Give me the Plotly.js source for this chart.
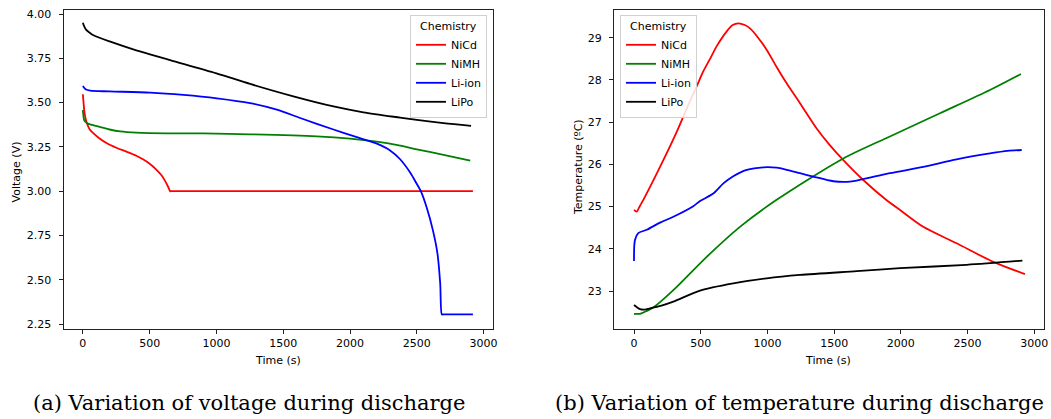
<!DOCTYPE html>
<html>
<head>
<meta charset="utf-8">
<script src="https://cdn.plot.ly/plotly-3.0.1.min.js"></script>
<style>html,body{margin:0;padding:0;background:#fff;}#chart{width:1051px;height:419px;}</style>
</head>
<body>
<div id="chart"></div>
<script>
// ---------- Data ----------
const seriesNames = ["NiCd", "NiMH", "Li-ion", "LiPo"];
const seriesColors = ["#ff0000", "#008000", "#0000ff", "#000000"];

// (a) Voltage during discharge
const nicdVoltTime = [0, 5, 10, 20, 30, 50, 80, 120, 180, 250, 330, 400, 450, 500, 550, 590, 615, 640, 653, 665, 720, 1000, 2000, 2920];
const nicdVolt     = [3.547, 3.50, 3.458, 3.41, 3.383, 3.35, 3.326, 3.30, 3.270, 3.245, 3.222, 3.200, 3.180, 3.155, 3.122, 3.088, 3.058, 3.022, 3.000, 3.000, 3.000, 3.000, 3.000, 3.000];

const nimhVoltTime = [0, 5, 10, 30, 60, 130, 200, 280, 400, 630, 900, 1250, 1750, 2000, 2200, 2375, 2500, 2700, 2900];
const nimhVolt     = [3.458, 3.42, 3.40, 3.385, 3.375, 3.362, 3.348, 3.337, 3.330, 3.326, 3.326, 3.321, 3.309, 3.296, 3.279, 3.257, 3.236, 3.205, 3.172];

const liionVoltTime = [0, 20, 55, 200, 504, 753, 1003, 1252, 1452, 1627, 1876, 2051, 2201, 2300, 2375, 2450, 2500, 2530, 2575, 2620, 2654, 2675, 2687, 2695, 2750, 2920];
const liionVolt     = [3.593, 3.575, 3.567, 3.563, 3.556, 3.543, 3.524, 3.497, 3.460, 3.413, 3.348, 3.305, 3.268, 3.230, 3.180, 3.105, 3.040, 3.000, 2.905, 2.780, 2.650, 2.480, 2.304, 2.304, 2.304, 2.304];

const lipoVoltTime = [0, 10, 25, 50, 80, 200, 400, 653, 1000, 1252, 1576, 1876, 2100, 2375, 2500, 2700, 2906];
const lipoVolt     = [3.951, 3.93, 3.91, 3.895, 3.880, 3.845, 3.795, 3.740, 3.665, 3.605, 3.535, 3.478, 3.445, 3.415, 3.402, 3.384, 3.369];

// (b) Temperature during discharge
const nicdTempTime = [0, 20, 45, 70, 195, 320, 407, 470, 519, 570, 620, 695, 740, 782, 830, 869, 930, 995, 1070, 1144, 1244, 1369, 1469, 1569, 1718, 1894, 1994, 2168, 2418, 2693, 2930];
const nicdTemp     = [24.92, 24.88, 25.02, 25.16, 25.94, 26.77, 27.41, 27.85, 28.20, 28.50, 28.80, 29.15, 29.30, 29.34, 29.30, 29.22, 29.00, 28.71, 28.30, 27.92, 27.45, 26.85, 26.45, 26.10, 25.63, 25.15, 24.92, 24.52, 24.13, 23.69, 23.40];

const nimhTempTime = [0, 45, 90, 145, 295, 545, 794, 1069, 1569, 1918, 2293, 2668, 2900];
const nimhTemp     = [22.46, 22.46, 22.52, 22.61, 23.02, 23.81, 24.52, 25.16, 26.14, 26.66, 27.21, 27.76, 28.14];

const liionTempTime = [0, 7, 32, 95, 195, 295, 444, 495, 594, 670, 744, 845, 969, 1070, 1144, 1244, 1344, 1494, 1619, 1718, 1918, 2168, 2418, 2668, 2800, 2906];
const liionTemp     = [23.71, 24.21, 24.37, 24.45, 24.62, 24.76, 25.01, 25.13, 25.31, 25.55, 25.72, 25.87, 25.93, 25.92, 25.87, 25.79, 25.71, 25.60, 25.59, 25.65, 25.79, 25.94, 26.12, 26.26, 26.32, 26.34];

const lipoTempTime = [0, 20, 45, 80, 120, 200, 295, 495, 744, 995, 1244, 1669, 1994, 2493, 2911];
const lipoTemp     = [22.67, 22.62, 22.57, 22.56, 22.59, 22.65, 22.75, 23.01, 23.18, 23.30, 23.38, 23.47, 23.54, 23.62, 23.72];

// ---------- Labels ----------
const legendTitle = "Chemistry";
const xLabel = "Time (s)";
const yLabelA = "Voltage (V)";
const yLabelB = "Temperature (ºC)";
const captionA = "(a) Variation of voltage during discharge";
const captionB = "(b) Variation of temperature during discharge";

// ---------- Traces ----------
const voltSets = [[nicdVoltTime, nicdVolt], [nimhVoltTime, nimhVolt], [liionVoltTime, liionVolt], [lipoVoltTime, lipoVolt]];
const tempSets = [[nicdTempTime, nicdTemp], [nimhTempTime, nimhTemp], [liionTempTime, liionTemp], [lipoTempTime, lipoTemp]];

const traces = [];
voltSets.forEach((s, i) => traces.push({
  x: s[0], y: s[1], type: "scatter", mode: "lines", name: seriesNames[i],
  line: {color: seriesColors[i], width: 1.8, shape: "spline", smoothing: 0.8}, xaxis: "x", yaxis: "y", legend: "legend"
}));
tempSets.forEach((s, i) => traces.push({
  x: s[0], y: s[1], type: "scatter", mode: "lines", name: seriesNames[i],
  line: {color: seriesColors[i], width: 1.8, shape: "spline", smoothing: 0.8}, xaxis: "x2", yaxis: "y2", legend: "legend2"
}));

const W = 1051, H = 419;
const px = v => v / W;
const py = v => 1 - v / H;

const tickFont = {family: "DejaVu Sans", size: 11, color: "#000"};
const axisCommon = {
  showgrid: false, zeroline: false, showline: true, mirror: true,
  linecolor: "#222", linewidth: 1, ticks: "outside", ticklen: 4, tickwidth: 1,
  tickcolor: "#222", tickfont: tickFont, fixedrange: true
};

const legendCommon = {
  title: {text: legendTitle, side: "top center", font: {family: "DejaVu Sans", size: 11, color: "#000"}},
  font: {family: "DejaVu Sans", size: 11, color: "#000"},
  bgcolor: "rgba(255,255,255,0.85)", bordercolor: "#d0d0d0", borderwidth: 1,
  yanchor: "top", itemwidth: 30, tracegroupgap: 0
};

const layout = {
  width: W, height: H,
  margin: {l: 0, r: 0, t: 0, b: 0},
  paper_bgcolor: "#fff", plot_bgcolor: "#fff",
  showlegend: true,
  xaxis: Object.assign({}, axisCommon, {domain: [px(63.5), px(492.7)], range: [-145, 3068], tickmode: "linear", tick0: 0, dtick: 500, anchor: "y", ticklabelstandoff: 0}),
  yaxis: Object.assign({}, axisCommon, {domain: [py(329), py(9.5)], range: [2.2218, 4.0254], tickmode: "linear", tick0: 0, dtick: 0.25, tickformat: ".2f", anchor: "x", ticklabelstandoff: 5}),
  xaxis2: Object.assign({}, axisCommon, {domain: [px(614), px(1044)], range: [-150, 3073], tickmode: "linear", tick0: 0, dtick: 500, anchor: "y2", ticklabelstandoff: 0}),
  yaxis2: Object.assign({}, axisCommon, {domain: [py(329), py(9.5)], range: [22.10, 29.668], tickmode: "linear", tick0: 0, dtick: 1, anchor: "x2", ticklabelstandoff: 5}),
  legend: Object.assign({}, legendCommon, {x: px(487), xanchor: "right", y: py(15)}),
  legend2: Object.assign({}, legendCommon, {x: px(620), xanchor: "left", y: py(15)}),
  annotations: [
    {text: yLabelA, xref: "paper", yref: "paper", x: px(16.7), y: py(171.7), textangle: -90, showarrow: false, font: {family: "DejaVu Sans", size: 11, color: "#000"}, xanchor: "center", yanchor: "middle"},
    {text: yLabelB, xref: "paper", yref: "paper", x: px(578.3), y: py(166.7), textangle: -90, showarrow: false, font: {family: "DejaVu Sans", size: 11, color: "#000"}, xanchor: "center", yanchor: "middle"},
    {text: xLabel, xref: "paper", yref: "paper", x: px(277.7), y: py(360), showarrow: false, font: {family: "DejaVu Sans", size: 11, color: "#000"}, xanchor: "center", yanchor: "middle"},
    {text: xLabel, xref: "paper", yref: "paper", x: px(828.3), y: py(360), showarrow: false, font: {family: "DejaVu Sans", size: 11, color: "#000"}, xanchor: "center", yanchor: "middle"},
    {text: captionA, xref: "paper", yref: "paper", x: px(249.2), y: py(403), showarrow: false, font: {family: "DejaVu Serif", size: 21, color: "#000"}, xanchor: "center", yanchor: "middle"},
    {text: captionB, xref: "paper", yref: "paper", x: px(799.2), y: py(403), showarrow: false, font: {family: "DejaVu Serif", size: 21, color: "#000"}, xanchor: "center", yanchor: "middle"}
  ]
};

Plotly.newPlot("chart", traces, layout, {displayModeBar: false, staticPlot: true});
</script>
</body>
</html>
